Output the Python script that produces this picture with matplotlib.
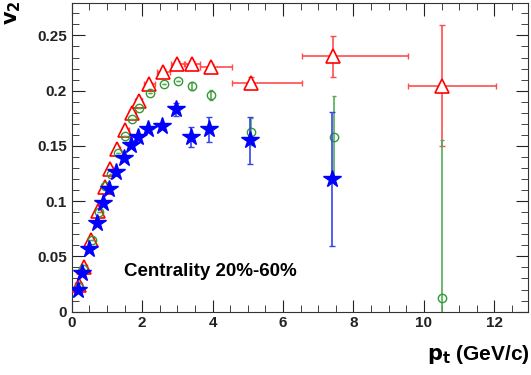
import matplotlib.pyplot as plt
from matplotlib.ticker import MultipleLocator

# blue stars
pt_star = [0.19, 0.30, 0.50, 0.72, 0.90, 1.06, 1.27, 1.48, 1.67, 1.87, 2.17, 2.56, 2.97, 3.40, 3.91, 5.05, 7.39]
v2_star = [0.020, 0.035, 0.057, 0.080, 0.098, 0.111, 0.126, 0.139, 0.151, 0.158, 0.165, 0.168, 0.183, 0.158, 0.165, 0.155, 0.120]
err_star = [0.001, 0.001, 0.001, 0.001, 0.001, 0.001, 0.001, 0.001, 0.001, 0.002, 0.002, 0.003, 0.0055, 0.0093, 0.0113, 0.021, 0.061]

# green circles
pt_circ = [0.21, 0.33, 0.57, 0.77, 0.96, 1.13, 1.32, 1.51, 1.71, 1.90, 2.22, 2.61, 3.02, 3.42, 3.96, 5.09, 7.44, 10.5]
v2_circ = [0.022, 0.039, 0.065, 0.090, 0.114, 0.125, 0.144, 0.159, 0.174, 0.184, 0.198, 0.206, 0.209, 0.2045, 0.196, 0.163, 0.158, 0.012]
err_circ = [0.0, 0.0, 0.0, 0.0, 0.0, 0.0, 0.0, 0.0, 0.0, 0.0, 0.0, 0.0, 0.0, 0.0035, 0.0045, 0.012, 0.037, 0.143]

# red triangles
pt_tri = [0.20, 0.35, 0.55, 0.75, 0.94, 1.10, 1.30, 1.52, 1.72, 1.91, 2.20, 2.59, 2.99, 3.41, 3.96, 5.09, 7.42, 10.5]
v2_tri = [0.024, 0.040, 0.065, 0.091, 0.113, 0.129, 0.147, 0.164, 0.180, 0.191, 0.206, 0.217, 0.224, 0.224, 0.221, 0.207, 0.231, 0.2045]
err_tri = [0.001, 0.001, 0.001, 0.001, 0.001, 0.001, 0.002, 0.002, 0.002, 0.002, 0.002, 0.003, 0.003, 0.003, 0.003, 0.005, 0.0185, 0.055]
xlo_tri = [0.10, 0.08, 0.08, 0.08, 0.08, 0.08, 0.08, 0.10, 0.10, 0.10, 0.15, 0.18, 0.18, 0.20, 0.31, 0.54, 0.88, 0.95]
xhi_tri = [0.10, 0.08, 0.08, 0.08, 0.08, 0.08, 0.08, 0.10, 0.10, 0.10, 0.16, 0.20, 0.20, 0.24, 0.59, 1.45, 2.13, 1.55]

xticks = [0, 2, 4, 6, 8, 10, 12]
yticks = [0, 0.05, 0.1, 0.15, 0.2, 0.25]
ylabels = ['0', '0.05', '0.1', '0.15', '0.2', '0.25']

plt.rcParams['font.family'] = 'Liberation Sans'
plt.rcParams['font.weight'] = 'bold'

fig = plt.figure(figsize=(5.31, 3.75), dpi=100)
ax = fig.add_axes([0.135, 0.169, 0.859, 0.822])

# red: error lines under a white-filled triangle, like ROOT leaves a gap
ax.errorbar(pt_tri, v2_tri, yerr=err_tri, xerr=[xlo_tri, xhi_tri], fmt='none',
            ecolor='#ff4d4d', elinewidth=1.2, capsize=2, zorder=2)
ax.plot(pt_tri, v2_tri, '^', ms=10, mfc='white', mec='red', mew=1.2, ls='none', zorder=3)
ax.errorbar(pt_circ, v2_circ, yerr=err_circ, fmt='o', ms=6,
            mfc='none', mec='#339933', mew=1.0, ecolor='#55aa55', elinewidth=1.2, capsize=1.5, zorder=4)
ax.errorbar(pt_star, v2_star, yerr=err_star, fmt='*', ms=13,
            mfc='blue', mec='blue', ecolor='#3344ee', elinewidth=1.2, capsize=2, zorder=5)

ax.set_xlim(0, 12.95)
ax.set_ylim(0, 0.279)
ax.set_xticks(xticks)
ax.set_xticklabels([str(t) for t in xticks])
ax.set_yticks(yticks)
ax.set_yticklabels(ylabels)
ax.xaxis.set_minor_locator(MultipleLocator(0.5))
ax.yaxis.set_minor_locator(MultipleLocator(0.01))
ax.tick_params(which='both', direction='in', top=True, right=True, labelsize=11, colors='#222222')
ax.tick_params(which='major', length=9)
ax.tick_params(which='minor', length=5)
for s in ax.spines.values():
    s.set_color('#333333')

ax.text(3.95, 0.036, 'Centrality 20%-60%', fontsize=13.5, fontweight='bold', ha='center', va='center')
fig.text(0.998, 0.055, r'$\mathbf{p_t}$ (GeV/c)', fontsize=15, fontweight='bold', ha='right', va='center')
fig.text(0.025, 0.998, r'$\mathbf{v_2}$', fontsize=15, fontweight='bold', ha='center', va='top', rotation=90)

fig.savefig('out.png', dpi=100)
